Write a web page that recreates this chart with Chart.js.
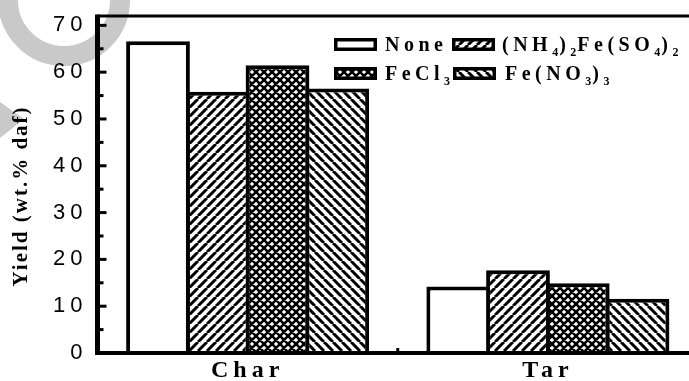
<!DOCTYPE html>
<html>
<head>
<meta charset="utf-8">
<script src="https://cdn.jsdelivr.net/npm/chart.js@4.4.1/dist/chart.umd.min.js"></script>
<style>
  html, body { margin: 0; padding: 0; background: #fff; overflow: hidden; }
  #wrap { width: 689px; height: 381px; overflow: hidden; }
  canvas { display: block; }
</style>
</head>
<body>
<div id="wrap"><canvas id="chart" width="698" height="381"></canvas></div>
<script>
// chart data
const categories = ['Char', 'Tar'];
const seriesNames = ['None', '(NH4)2Fe(SO4)2', 'FeCl3', 'Fe(NO3)3'];
const noneValues = [66.6, 14.2];
const nh4Values = [55.8, 17.7];
const fecl3Values = [61.5, 14.9];
const feno3Values = [56.5, 11.6];
const yMin = 0;
const yMax = 72;
const yStep = 10;
const yTitle = 'Yield (wt.% daf)';

// hatch patterns
function makePattern(kind) {
  const s = kind === 'cross' ? 8 : 9;
  const c = document.createElement('canvas');
  c.width = s; c.height = s;
  const g = c.getContext('2d');
  g.fillStyle = '#fff';
  g.fillRect(0, 0, s, s);
  if (kind === 'none') return g.createPattern(c, 'repeat');
  g.strokeStyle = '#000';
  g.lineWidth = kind === 'cross' ? 2.6 : 3;
  g.beginPath();
  for (let k = -1; k <= 1; k++) {
    if (kind === 'up' || kind === 'cross') {
      g.moveTo(k * s, s); g.lineTo(k * s + s, 0);
    }
    if (kind === 'down' || kind === 'cross') {
      g.moveTo(k * s, 0); g.lineTo(k * s + s, s);
    }
  }
  g.stroke();
  return g.createPattern(c, 'repeat');
}

const fills = [makePattern('none'), makePattern('up'), makePattern('cross'), makePattern('down')];
const seriesValues = [noneValues, nh4Values, fecl3Values, feno3Values];

// watermark, frame, ticks, legend, y title
const decor = {
  id: 'decor',
  beforeDraw(chart) {
    const ctx = chart.ctx;
    ctx.save();
    ctx.strokeStyle = '#c9c9c9';
    ctx.lineWidth = 20;
    ctx.beginPath();
    ctx.arc(64, 0, 56, 0, Math.PI * 2);
    ctx.stroke();
    ctx.fillStyle = '#c9c9c9';
    ctx.beginPath();
    ctx.moveTo(0, 102); ctx.lineTo(24, 119); ctx.lineTo(0, 138);
    ctx.closePath();
    ctx.fill();
    ctx.restore();
    ctx.letterSpacing = '5px';
  },
  afterDraw(chart) {
    const ctx = chart.ctx;
    const a = chart.chartArea;
    const ys = chart.scales.y;
    const xs = chart.scales.x;
    ctx.save();
    ctx.strokeStyle = '#000';
    ctx.lineCap = 'butt';
    // frame
    ctx.lineWidth = 3;
    ctx.beginPath();
    ctx.moveTo(a.left, a.top); ctx.lineTo(a.right, a.top);
    ctx.stroke();
    ctx.lineWidth = 4;
    ctx.beginPath();
    ctx.moveTo(a.left, a.bottom); ctx.lineTo(a.right, a.bottom);
    ctx.stroke();
    ctx.lineWidth = 5;
    ctx.beginPath();
    ctx.moveTo(a.left, a.top - 1.5); ctx.lineTo(a.left, a.bottom + 2);
    ctx.stroke();
    // inward y ticks
    ctx.lineWidth = 3;
    ys.ticks.forEach(t => {
      [t.value, t.value + yStep / 2].forEach((v, i) => {
        if (v <= 0 || v > yMax) return;
        const py = ys.getPixelForValue(v);
        ctx.beginPath();
        ctx.moveTo(a.left + 2, py);
        ctx.lineTo(a.left + (i === 0 ? 9 : 6), py);
        ctx.stroke();
      });
    });
    // x tick between categories
    const mx = xs.getPixelForValue(0.5);
    ctx.beginPath();
    ctx.moveTo(mx, a.bottom - 1); ctx.lineTo(mx, a.bottom - 5);
    ctx.stroke();

    // y title
    ctx.letterSpacing = '2px';
    ctx.fillStyle = '#000';
    ctx.font = 'bold 21px "Liberation Serif"';
    ctx.textAlign = 'center';
    ctx.textBaseline = 'middle';
    ctx.translate(22, 196);
    ctx.rotate(-Math.PI / 2);
    ctx.fillText(yTitle, 0, 0);
    ctx.restore();

    // legend
    const slots = [[334, 38, 385], [452, 38, 502], [334, 67, 385], [453, 67, 505]];
    ctx.save();
    ctx.textBaseline = 'alphabetic';
    ctx.textAlign = 'left';
    chart.data.datasets.forEach((ds, i) => {
      const [bx, by, tx] = slots[i];
      ctx.fillStyle = ds.backgroundColor;
      ctx.fillRect(bx, by, 43, 13);
      ctx.lineWidth = 3.5;
      ctx.strokeStyle = '#000';
      ctx.strokeRect(bx + 1.75, by + 1.75, 39.5, 9.5);
      ctx.fillStyle = '#000';
      let x = tx;
      const base = by + 13;
      for (const ch of ds.label) {
        const sub = /[0-9]/.test(ch);
        ctx.letterSpacing = sub ? '1px' : '4.5px';
        ctx.font = sub ? 'bold 12px "Liberation Serif"' : 'bold 20px "Liberation Serif"';
        ctx.fillText(ch, x, sub ? base + 5 : base);
        x += ctx.measureText(ch).width;
      }
    });
    ctx.restore();
  }
};

new Chart(document.getElementById('chart'), {
  type: 'bar',
  data: {
    labels: categories,
    datasets: seriesNames.map((name, i) => ({
      label: name,
      data: seriesValues[i],
      backgroundColor: fills[i],
      borderColor: '#000',
      borderWidth: 4,
      borderSkipped: 'start',
      categoryPercentage: 0.796,
      barPercentage: 1.067
    }))
  },
  options: {
    responsive: false,
    animation: false,
    devicePixelRatio: 1,
    layout: { padding: { top: 16, right: 0, left: 0, bottom: 0 } },
    plugins: { legend: { display: false }, tooltip: { enabled: false } },
    scales: {
      x: {
        grid: { display: false, drawTicks: false },
        border: { display: false },
        ticks: {
          color: '#000',
          padding: 3,
          font: { family: 'Liberation Serif', weight: 'bold', size: 24 }
        },
        afterFit(scale) {
          scale.height = 28;
          scale.paddingLeft = 0; scale.paddingRight = 0;
        }
      },
      y: {
        min: yMin,
        max: yMax,
        grid: { display: false, drawTicks: false },
        border: { display: false },
        ticks: {
          stepSize: yStep,
          includeBounds: false,
          color: '#000',
          padding: 10,
          font: { family: 'Liberation Sans', size: 22 }
        },
        afterBuildTicks(scale) {
          scale.ticks = scale.ticks.filter(t => t.value % yStep === 0);
        },
        afterFit(scale) {
          scale.width = 97.5;
          scale.paddingTop = 0; scale.paddingBottom = 0;
        }
      }
    }
  },
  plugins: [decor]
});
</script>
</body>
</html>
